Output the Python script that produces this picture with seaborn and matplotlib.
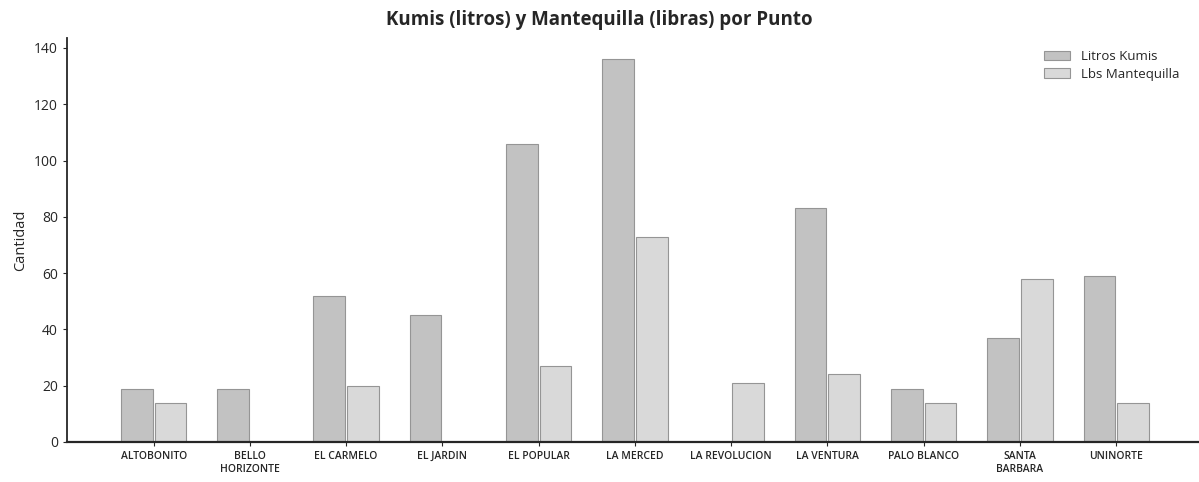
import numpy as np
import pandas as pd
import seaborn as sns
import matplotlib.pyplot as plt

puntos = ["ALTOBONITO", "BELLO\nHORIZONTE", "EL CARMELO", "EL JARDIN", "EL POPULAR",
          "LA MERCED", "LA REVOLUCION", "LA VENTURA", "PALO BLANCO",
          "SANTA\nBARBARA", "UNINORTE"]
litros_kumis = [19, 19, 52, 45, 106, 136, 0, 83, 19, 37, 59]
lbs_mantequilla = [14, 0, 20, 0, 27, 73, 21, 24, 14, 58, 14]

df = pd.DataFrame({"Punto": puntos,
                   "Litros Kumis": litros_kumis,
                   "Lbs Mantequilla": lbs_mantequilla})
df = df.melt(id_vars="Punto", var_name="Producto", value_name="Cantidad")

sns.set_style("ticks")
plt.rcParams["font.family"] = ["Open Sans", "DejaVu Sans"]

fig = plt.figure(figsize=(11.99, 4.82), dpi=100)
ax = fig.add_axes([67 / 1199, 0.083, 1 - 67 / 1199, 0.838])

sns.barplot(data=df, x="Punto", y="Cantidad", hue="Producto",
            palette=["#c2c2c2", "#d9d9d9"], width=0.7, gap=0.06,
            edgecolor="#959595", linewidth=0.8, ax=ax)

ax.set_xlim(-0.9, 10.86)
ax.set_ylim(0, 143.5)
ax.set_yticks(np.arange(0, 141, 20))
ax.set_xlabel("")
ax.set_ylabel("Cantidad", fontsize=10.5)
ax.tick_params(axis="x", labelsize=7.5, length=3)
ax.tick_params(axis="y", labelsize=10, length=3)
for lbl in ax.get_xticklabels():
    lbl.set_fontweight("semibold")
ax.spines["left"].set_linewidth(1.3)
ax.spines["bottom"].set_linewidth(1.6)
sns.despine(ax=ax)

ax.legend(title=None, frameon=False, loc="upper right", fontsize=9.5,
          bbox_to_anchor=(0.993, 1.0), labelspacing=0.35)
fig.suptitle("Kumis (litros) y Mantequilla (libras) por Punto",
             fontsize=13.5, fontweight="bold", x=0.5, y=0.98)

fig.savefig("out.png", dpi=100)
